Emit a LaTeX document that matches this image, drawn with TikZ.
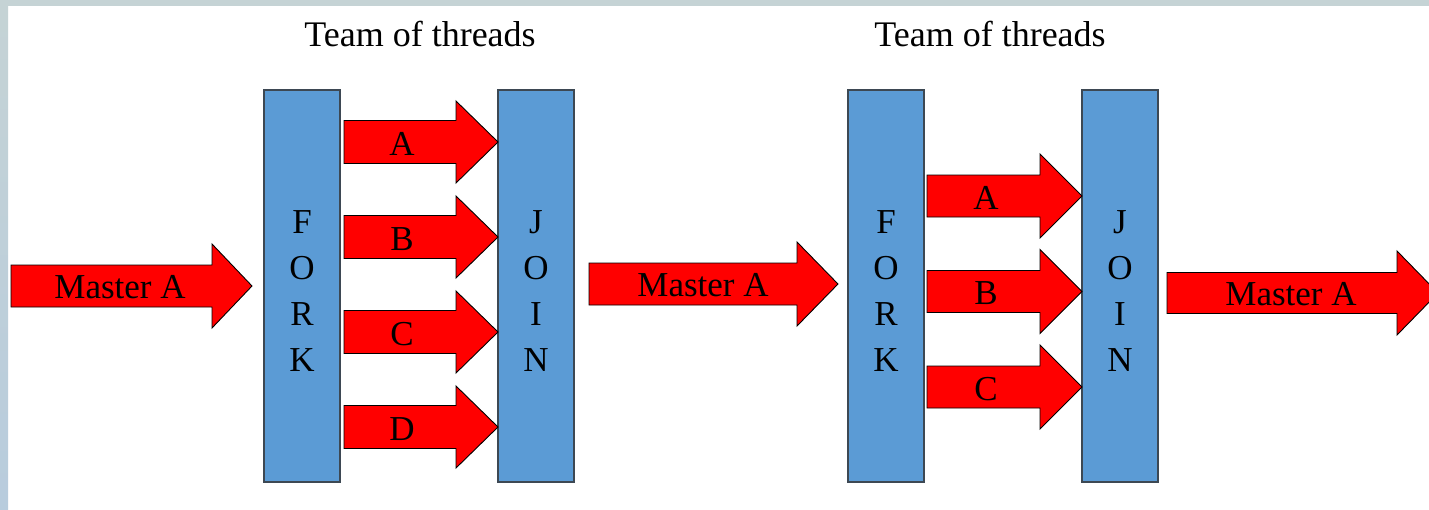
\documentclass[tikz,border=0pt]{standalone}
\usepackage{fontspec}
\setmainfont{Liberation Serif}
\definecolor{barblue}{HTML}{5B9BD5}
\definecolor{baredge}{HTML}{3D4853}
\definecolor{arrred}{HTML}{FF0000}
\definecolor{frameA}{HTML}{C5D3D5}
\definecolor{frameB}{HTML}{B8CCDD}
\tikzset{
  arrshape/.style={fill=arrred, draw=black, line width=0.9pt, line join=miter},
  bar/.style={rectangle, fill=barblue, draw=baredge, line width=1.3pt, minimum width=76pt, minimum height=392pt, inner sep=0pt},
  lbl/.style={font=\fontsize{35}{40}\selectfont, inner sep=0pt, text=black},
  vlbl/.style={font=\fontsize{35}{46.3}\selectfont, align=center, inner sep=0pt, text=black},
  title/.style={font=\fontsize{36}{40}\selectfont, inner sep=0pt, text=black}
}
% #1 body start x, #2 head start x, #3 tip x, #4 centre y, #5 body half height, #6 head half height
\newcommand{\fatarr}[6]{%
  \draw[arrshape] (#1,{#4-#5}) -- (#2,{#4-#5}) -- (#2,{#4-#6}) -- (#3,#4) -- (#2,{#4+#6}) -- (#2,{#4+#5}) -- (#1,{#4+#5}) -- cycle;}
\begin{document}
\begin{tikzpicture}[x=1pt,y=-1pt]
\useasboundingbox (0,0) rectangle (1429,509);
\clip (0,0) rectangle (1429,509);
% frame strips
\fill[white] (0,0) rectangle (1429,509);
\shade[top color=frameA, bottom color=frameB] (0,0) rectangle (8,509);
\fill[frameA] (0,0) rectangle (1429,6);

% titles
\node[title] (t1) at (420,34) {Team of threads};
\node[title] (t2) at (990,34) {Team of threads};

% bars
\node[bar] (fork1) at (302,286) {};
\node[bar] (join1) at (536,286) {};
\node[bar] (fork2) at (886,286) {};
\node[bar] (join2) at (1120,286) {};
\node[vlbl] (fork1t) at (302,291) {F\\O\\R\\K};
\node[vlbl] (join1t) at (536,291) {J\\O\\I\\N};
\node[vlbl] (fork2t) at (886,291) {F\\O\\R\\K};
\node[vlbl] (join2t) at (1120,291) {J\\O\\I\\N};

% master arrows
\fatarr{11}{212}{252}{286}{21}{42}
\node[lbl] (m1) at (120,287) {Master A};
\fatarr{589}{797}{838}{284}{21}{42}
\node[lbl] (m2) at (703,285) {Master A};
\fatarr{1167}{1397}{1438}{293}{20.5}{42}
\node[lbl] (m3) at (1291,294) {Master A};

% team 1 threads
\fatarr{344}{456}{498}{142}{21.5}{41}
\node[lbl] (a1) at (402,144) {A};
\fatarr{344}{456}{498}{237}{21.5}{41}
\node[lbl] (b1) at (402,239) {B};
\fatarr{344}{456}{498}{332}{21.5}{41}
\node[lbl] (c1) at (402,334) {C};
\fatarr{344}{456}{498}{427}{21.5}{41}
\node[lbl] (d1) at (402,429) {D};

% team 2 threads
\fatarr{927}{1040}{1082}{196}{21}{42}
\node[lbl] (a2) at (986,198) {A};
\fatarr{927}{1040}{1082}{291.5}{21}{42}
\node[lbl] (b2) at (986,293.5) {B};
\fatarr{927}{1040}{1082}{387}{21}{42}
\node[lbl] (c2) at (986,389) {C};
\end{tikzpicture}
\end{document}
